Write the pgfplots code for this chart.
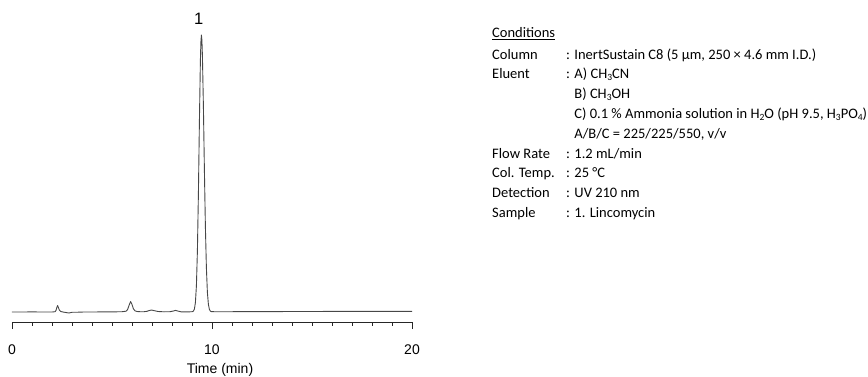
\documentclass[border=0pt]{standalone}
\usepackage{pgfplots}
\pgfplotsset{compat=1.18}
\usepackage{fontspec}
\setmainfont{Liberation Sans}
\newfontfamily\cond{Carlito}
\newcommand\sub[1]{\raisebox{-0.25ex}{\fontsize{9.5}{10}\selectfont #1}}
\begin{document}
\begin{tikzpicture}
\useasboundingbox (0,0) rectangle (868pt,376pt);
\begin{axis}[
  at={(12pt,54pt)}, anchor=south west,
  x=20pt, y=1pt, scale only axis,
  xmin=0, xmax=20, ymin=-10, ymax=285,
  axis x line=bottom, axis y line=none,
  x axis line style={-, black!85, line width=0.9pt},
  xtick={0,10,20}, minor xtick={1,2,...,19},
  tick align=outside, major tick length=7pt, minor tick length=3.5pt,
  every tick/.style={black!85, line width=0.8pt},
  xticklabel style={font=\fontsize{14}{16}\selectfont, anchor=center, yshift=-21pt},
  /pgf/number format/assume math mode=true,
  clip=false,
]
\addplot[black!72, line width=0.9pt, line join=round] coordinates {
(0,0) (0.5,0) (1,0.1) (1.5,0) (2.0,0) (2.15,0.3) (2.2,1.5) (2.24,4.5) (2.28,6.5) (2.32,4.5) (2.37,1.8) (2.45,0.4) (2.55,0) (2.7,-0.5) (2.85,-1) (3.0,-0.3) (3.3,-0.2) (3.6,0) (4.0,0) (4.5,0.1) (5.0,0.1) (5.5,0.3) (5.7,0.8) (5.78,2.5) (5.85,6.5) (5.93,10.5) (6.0,7.5) (6.07,3.2) (6.15,1.2) (6.25,0.5) (6.4,0.3) (6.6,0.3) (6.75,0.7) (6.87,1.5) (6.98,2.0) (7.1,1.4) (7.3,0.5) (7.6,0.2) (7.9,0.3) (8.05,0.9) (8.18,1.6) (8.3,0.9) (8.45,0.2) (8.8,0.1) (8.9,0.2)
(9.0,0.3) (9.07,0.8) (9.12,2.9) (9.17,9.4) (9.22,26) (9.27,61) (9.32,118) (9.37,190) (9.42,252) (9.445,270) (9.47,277) (9.495,272) (9.52,257) (9.57,206) (9.62,142) (9.67,85) (9.72,44) (9.77,19.5) (9.82,7.6) (9.87,2.6) (9.92,0.9) (9.97,0.4) (10.1,0.3) (10.5,0.3) (11,0.3) (12,0.4) (13,0.4) (14,0.5) (15,0.5) (16,0.6) (17,0.6) (18,0.6) (19,0.7) (20,0.7)
};
\node[font=\fontsize{16.5}{18}\selectfont, anchor=center] at (axis cs:9.33,293) {1};
\node[font=\fontsize{14}{16}\selectfont, anchor=center] at (axis cs:10.4,-58) {Time (min)};
\end{axis}
\begin{scope}[every node/.style={anchor=base west, inner sep=0pt, font=\cond\fontsize{14.5}{17}\selectfont}]
\node at (492pt,338.7pt) {\underline{Conditions}};
\node at (492pt,317pt) {Column};
\node at (566pt,317pt) {: InertSustain C8 (5 µm, 250 × 4.6 mm I.D.)};
\node at (492pt,297.2pt) {Eluent};
\node at (566pt,297.2pt) {: A) CH\sub{3}CN};
\node at (566pt,277.4pt) {\phantom{: }B) CH\sub{3}OH};
\node at (566pt,257.6pt) {\phantom{: }C) 0.1 \% Ammonia solution in H\sub{2}O (pH 9.5, H\sub{3}PO\sub{4})};
\node at (566pt,237.8pt) {\phantom{: }A/B/C = 225/225/550, v/v};
\node at (492pt,218pt) {Flow Rate};
\node at (566pt,218pt) {: 1.2 mL/min};
\node at (492pt,198.2pt) {Col. Temp.};
\node at (566pt,198.2pt) {: 25 °C};
\node at (492pt,178.4pt) {Detection};
\node at (566pt,178.4pt) {: UV 210 nm};
\node at (492pt,158.6pt) {Sample};
\node at (566pt,158.6pt) {: 1. Lincomycin};
\end{scope}
\end{tikzpicture}
\end{document}
